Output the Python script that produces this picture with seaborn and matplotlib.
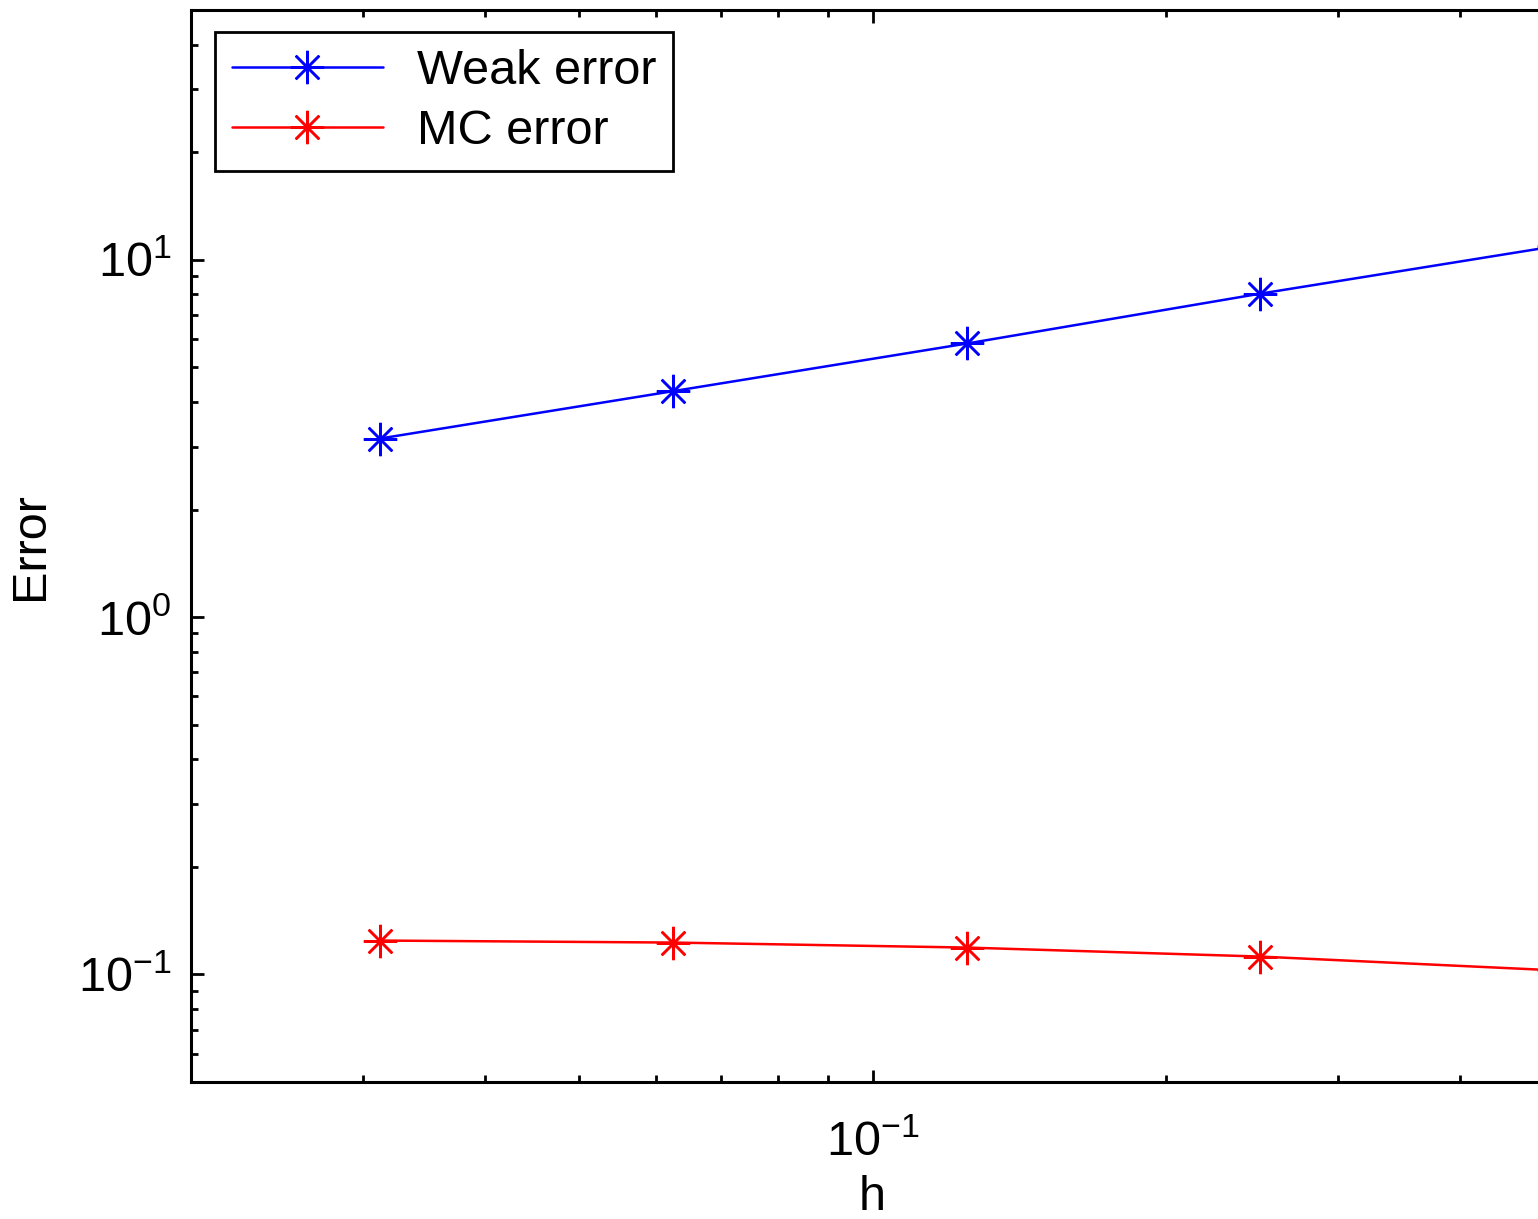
import numpy as np
import pandas as pd
import matplotlib
matplotlib.use("Agg")
import matplotlib.pyplot as plt
import seaborn as sns
from matplotlib.ticker import LogLocator, NullFormatter

h = [1/32, 1/16, 1/8, 1/4, 1/2]
weak_error = [3.16, 4.29, 5.83, 8.04, 10.9]
mc_error = [0.1244, 0.1228, 0.1189, 0.1122, 0.1027]
series_names = ["Weak error", "MC error"]
series_colors = ["blue", "red"]

sns.set_style("ticks")
plt.rcParams["font.family"] = ["Liberation Sans", "DejaVu Sans"]
plt.rcParams["mathtext.fontset"] = "custom"
plt.rcParams["mathtext.rm"] = "Liberation Sans"
plt.rcParams["mathtext.it"] = "Liberation Sans:italic"
plt.rcParams["mathtext.bf"] = "Liberation Sans:bold"
plt.rcParams["text.color"] = "black"
plt.rcParams["axes.labelcolor"] = "black"
plt.rcParams["xtick.color"] = "black"
plt.rcParams["ytick.color"] = "black"

FS = 35

fig = plt.figure(figsize=(15.38, 12.19), dpi=100)
ax = fig.add_axes([191/1538, (1219-1082)/1219, (1554-191)/1538, (1082-10)/1219])

df = pd.DataFrame({
    "h": h * 2,
    "err": weak_error + mc_error,
    "series": [series_names[0]] * len(h) + [series_names[1]] * len(h),
})

for name, col in zip(series_names, series_colors):
    sub = df[df["series"] == name]
    sns.lineplot(data=sub, x="h", y="err", ax=ax, color=col, label=name,
                 marker=(8, 2, 0), markersize=24, markeredgewidth=1.8,
                 markeredgecolor=col, linewidth=1.8, estimator=None,
                 sort=False)

ax.set_xscale("log")
ax.set_yscale("log")
ax.set_xlim(0.02, 0.5)
ax.set_ylim(0.05, 50)

ax.xaxis.set_major_locator(LogLocator(base=10, numticks=10))
ax.yaxis.set_major_locator(LogLocator(base=10, numticks=10))
ax.xaxis.set_minor_locator(LogLocator(base=10, subs=np.arange(2, 10), numticks=20))
ax.yaxis.set_minor_locator(LogLocator(base=10, subs=np.arange(2, 10), numticks=20))
ax.xaxis.set_minor_formatter(NullFormatter())
ax.yaxis.set_minor_formatter(NullFormatter())

for s in ax.spines.values():
    s.set_linewidth(2.2)
    s.set_color("black")
    s.set_visible(True)

ax.tick_params(which="both", direction="in", top=True, right=True,
               colors="black", labelcolor="black", labelsize=FS, width=2.0)
ax.tick_params(which="major", length=9, pad=14)
ax.tick_params(which="minor", length=5)
ax.tick_params(axis="x", which="major", pad=28)

ax.set_xlabel("h", fontsize=FS, labelpad=6, color="black")
ax.set_ylabel("Error", fontsize=FS, labelpad=18, color="black")

leg = ax.legend(loc="upper left", bbox_to_anchor=((215-191)/1363, (1082-32)/1072),
                borderaxespad=0, fontsize=FS, handlelength=3.1, handletextpad=0.7,
                fancybox=False, framealpha=1, edgecolor="black",
                borderpad=0.35, labelspacing=0.3)
leg.get_frame().set_linewidth(2.0)
for t in leg.get_texts():
    t.set_color("black")

fig.savefig("out.png", dpi=100)
